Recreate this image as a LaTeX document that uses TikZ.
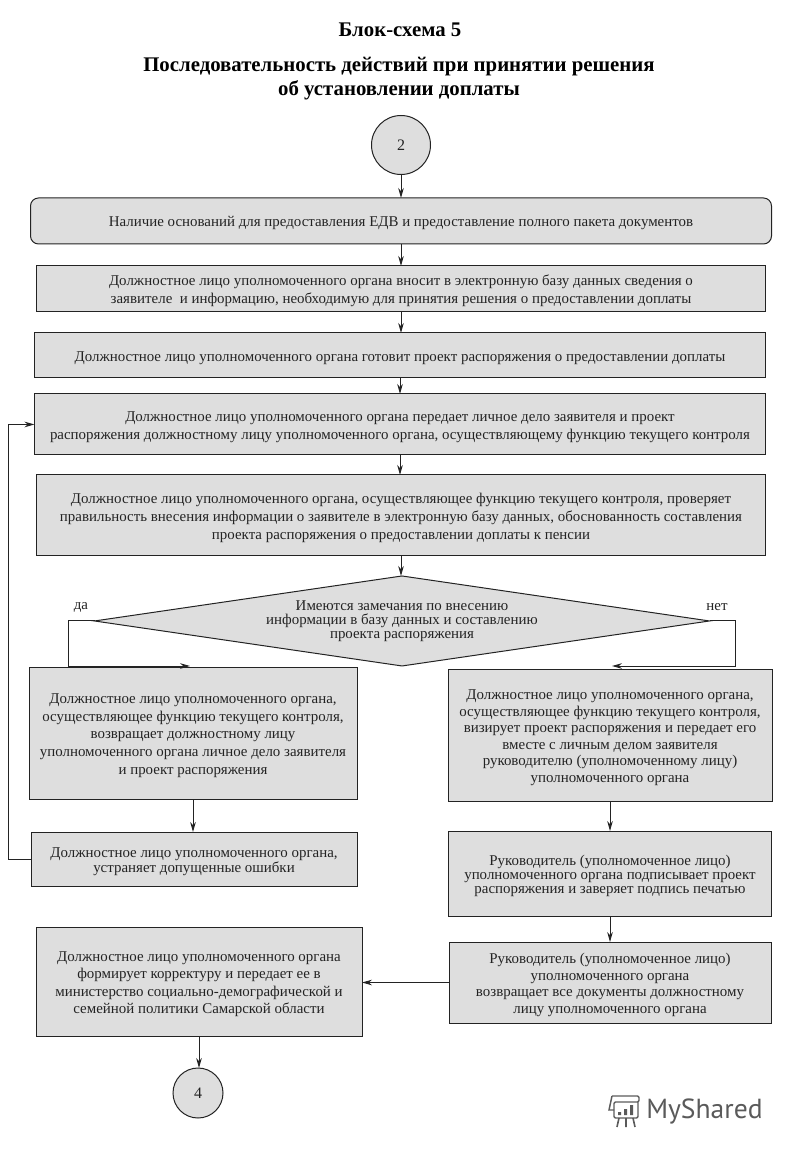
\documentclass[tikz,border=0pt]{standalone}
\usepackage{fontspec}
\setmainfont{Liberation Serif}
\newfontfamily\logofont{PT Sans}
\usetikzlibrary{arrows.meta,positioning,shapes.geometric}
\definecolor{boxgray}{RGB}{222,222,222}
\definecolor{inkgray}{RGB}{35,35,35}
\definecolor{logogray}{RGB}{90,90,90}
\newcommand{\lifted}{\rule{0pt}{11.3pt}}

\begin{document}
\begin{tikzpicture}[x=0.75pt,y=-0.75pt,
  box/.style={draw=inkgray,line width=0.75pt,fill=boxgray,inner sep=0pt,outer sep=0pt,align=center,text=inkgray,
              font=\fontsize{11.2}{#1}\selectfont},
  stepbox/.style={box=#1},
  endpoint/.style={circle,draw=inkgray,line width=0.75pt,fill=boxgray,inner sep=0pt,outer sep=0pt,text=inkgray,
              font=\fontsize{12}{14}\selectfont},
  choice/.style={diamond,draw=inkgray,line width=0.75pt,fill=boxgray,inner sep=0pt,outer sep=0pt,aspect=6.8,align=center,text=inkgray,
              font=\fontsize{11.2}{10.5}\selectfont},
  heading/.style={inner sep=0pt,align=center,font=\fontsize{15.6}{18}\selectfont\bfseries},
  tag/.style={inner sep=0pt,text=inkgray,font=\fontsize{11.2}{12}\selectfont},
  arr/.style={-{Stealth[length=7.5pt,width=4.2pt]},line width=0.75pt,draw=inkgray}]
  \useasboundingbox (0,0) rectangle (800,1156);

  \node[heading] (title) at (400,30) {Блок-схема 5};
  \node[heading] (subtitle) at (399,79) {Последовательность действий при принятии решения\\об установлении доплаты};

  % central column
  \node[endpoint,minimum size=44.25pt] (start) at (401,145) {2};
  \node[stepbox=13,rounded corners=6pt,minimum width=555.75pt,minimum height=34.5pt,below=17.6pt of start] (grounds)
    {\lifted Наличие оснований для предоставления ЕДВ и предоставление полного пакета документов};
  \node[stepbox=13.5,minimum width=546.75pt,minimum height=34.5pt,below=16.5pt of grounds] (enter)
    {\lifted Должностное лицо уполномоченного органа вносит в электронную базу данных сведения о\\заявителе~ и информацию, необходимую для принятия решения о предоставлении доплаты};
  \node[stepbox=13,minimum width=548.25pt,minimum height=33.75pt,below=15.75pt of enter,xshift=-.75pt] (draft)
    {\lifted Должностное лицо уполномоченного органа готовит проект распоряжения о предоставлении доплаты};
  \node[stepbox=13.5,minimum width=548.25pt,minimum height=45.75pt,below=12pt of draft] (hand)
    {\lifted Должностное лицо уполномоченного органа передает личное дело заявителя и проект\\распоряжения должностному лицу уполномоченного органа, осуществляющему функцию текущего контроля};
  \node[stepbox=13.5,minimum width=546.75pt,minimum height=60.75pt,below=15pt of hand,xshift=.75pt] (check)
    {\lifted Должностное лицо уполномоченного органа, осуществляющее функцию текущего контроля, проверяет\\правильность внесения информации о заявителе в электронную базу данных, обоснованность составления\\проекта распоряжения о предоставлении доплаты к пенсии};
  \node[choice,minimum width=461.25pt,minimum height=67.5pt,below=15pt of check,xshift=.75pt] (remarks)
    {Имеются замечания по внесению\\информации в базу данных и составлению\\проекта распоряжения};
  \node[tag] (yes) at (81,607) {да};
  \node[tag] (no) at (717,607) {нет};

  % left column
  \node[stepbox=13.3,minimum width=246pt,minimum height=99pt] (back) at (193,733)
    {\lifted Должностное лицо уполномоченного органа,\\осуществляющее функцию текущего контроля,\\возвращает должностному лицу\\уполномоченного органа личное дело заявителя\\и проект распоряжения};
  \node[stepbox=11.3,minimum width=244.5pt,minimum height=40.5pt,below=24.75pt of back,xshift=.75pt] (fix)
    {\lifted Должностное лицо уполномоченного органа,\\устраняет допущенные ошибки};
  \node[stepbox=13.1,minimum width=244.5pt,minimum height=81.75pt] (proof) at (199,981.5)
    {\lifted Должностное лицо уполномоченного органа\\формирует корректуру и передает ее в\\министерство социально-демографической и\\семейной политики Самарской области};
  \node[endpoint,minimum size=37.5pt,below=24pt of proof,xshift=-.75pt] (finish) {4};

  % right column
  \node[stepbox=12.4,minimum width=243pt,minimum height=99pt] (visa) at (610,735)
    {\lifted Должностное лицо уполномоченного органа,\\осуществляющее функцию текущего контроля,\\визирует проект распоряжения и передает его\\вместе с личным делом заявителя\\руководителю (уполномоченному лицу)\\уполномоченного органа};
  \node[stepbox=10.2,minimum width=242.25pt,minimum height=63.75pt,below=22.5pt of visa] (sign)
    {\lifted Руководитель (уполномоченное лицо)\\уполномоченного органа подписывает проект\\распоряжения и заверяет подпись печатью};
  \node[stepbox=12.4,minimum width=241.5pt,minimum height=60.75pt,below=19.5pt of sign] (returned)
    {\lifted Руководитель (уполномоченное лицо)\\уполномоченного органа\\возвращает все документы должностному\\лицу уполномоченного органа};

  \coordinate (yesend) at (190,666);
  \coordinate (noend) at (612,666);
  \coordinate (yesturn) at (68,621);
  \coordinate (noturn) at (735,621);
  \coordinate (loopturn) at (8,859);

  \draw[arr] (start) -- (grounds);
  \draw[arr] (grounds) -- (enter);
  \draw[arr] (enter.south) -- (enter.south |- draft.north);
  \draw[arr] (draft) -- (hand);
  \draw[arr] (hand.south) -- (hand.south |- check.north);
  \draw[arr] (check.south) -- (check.south |- remarks.north);
  \draw[arr] (remarks.west) -- (remarks.west -| yesturn) |- (yesend);
  \draw[arr] (remarks.east) -- (remarks.east -| noturn) |- (noend);
  \draw[arr] (back.south) -- (back.south |- fix.north);
  \draw[arr] (visa) -- (sign);
  \draw[arr] (sign) -- (returned);
  \draw[arr] (returned.west) -- (returned.west -| proof.east);
  \draw[arr] (proof.south) -- (proof.south |- finish.north);
  \draw[arr] (fix.west) -- (fix.west -| loopturn) |- (hand.west);

  % watermark
  \node[inner sep=0pt,anchor=west,text=logogray,font=\logofont\fontsize{20.7}{24}\selectfont] (brand) at (646,1111) {MyShared};
  \draw[logogray,line width=1.1pt,rounded corners=1pt] (612,1096) -- (639,1096) -- (639,1102) -- (614,1102) -- (614,1118) -- (638,1118) -- (638,1102);
  \draw[logogray,line width=1.1pt] (612,1096) -- (609,1110) -- (614,1110);
  \fill[logogray] (618,1112) rectangle (621,1115) (624,1109) rectangle (627,1115) (630,1105) rectangle (633,1115);
  \draw[logogray,line width=1.2pt] (619,1118) -- (617,1127) (626,1118) -- (626,1127) (633,1118) -- (635,1127);
\end{tikzpicture}
\end{document}
